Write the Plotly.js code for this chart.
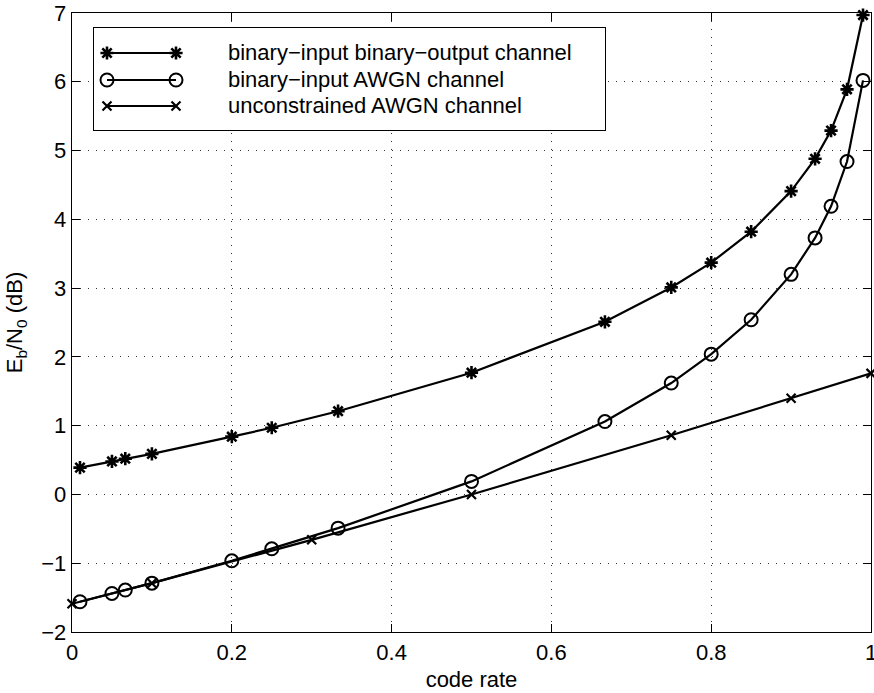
<!DOCTYPE html>
<html>
<head>
<meta charset="utf-8">
<script src="https://cdn.plot.ly/plotly-3.0.1.min.js"></script>
<style>
  html, body { margin: 0; padding: 0; background: #fff; }
  #chart { width: 874px; height: 693px; }
</style>
</head>
<body>
<div id="chart"></div>
<script>
// Shannon-limit Eb/N0 (dB) versus code rate for three channel models.
const bscRate = [0.01, 0.05, 0.0667, 0.1, 0.2, 0.25, 0.333, 0.5, 0.667, 0.75, 0.8, 0.85, 0.9, 0.93, 0.95, 0.97, 0.99];
const bscEbN0 = [0.39, 0.48, 0.52, 0.59, 0.84, 0.97, 1.21, 1.77, 2.51, 3.01, 3.37, 3.82, 4.41, 4.88, 5.29, 5.89, 6.97];

const biawgnRate = [0.01, 0.05, 0.0667, 0.1, 0.2, 0.25, 0.333, 0.5, 0.667, 0.75, 0.8, 0.85, 0.9, 0.93, 0.95, 0.97, 0.99];
const biawgnEbN0 = [-1.56, -1.44, -1.39, -1.29, -0.965, -0.79, -0.49, 0.19, 1.06, 1.62, 2.04, 2.54, 3.20, 3.73, 4.19, 4.84, 6.02];

const awgnRate = [0, 0.1, 0.3, 0.5, 0.75, 0.9, 1.0];
const awgnEbN0 = [-1.59, -1.29, -0.66, 0.0, 0.86, 1.40, 1.76];

const seriesNames = [
  'binary\u2212input binary\u2212output channel',
  'binary\u2212input AWGN channel',
  'unconstrained AWGN channel'
];

const xTickVals = [0, 0.2, 0.4, 0.6, 0.8, 1];
const xTickText = ['0', '0.2', '0.4', '0.6', '0.8', '1'];
const yTickVals = [-2, -1, 0, 1, 2, 3, 4, 5, 6, 7];

const FONT = 'Liberation Sans, Arial, Helvetica, sans-serif';
const FS = 22;
const LW = 2.2;

const markerStyles = [
  { symbol: 'asterisk-open', size: 11, color: '#000', line: { color: '#000', width: 2.6 } },
  { symbol: 'circle-open', size: 13, color: '#000', line: { color: '#000', width: 2 } },
  { symbol: 'x-thin-open', size: 9, color: '#000', line: { color: '#000', width: 2.2 } }
];

function curve(x, y, k) {
  return {
    x: x, y: y, type: 'scatter', mode: 'lines+markers',
    xaxis: 'x', yaxis: 'y',
    line: { color: '#000', width: LW },
    marker: markerStyles[k],
    cliponaxis: false, showlegend: false, hoverinfo: 'x+y'
  };
}

const traces = [
  curve(bscRate, bscEbN0, 0),
  curve(biawgnRate, biawgnEbN0, 1),
  curve(awgnRate, awgnEbN0, 2)
];

// Boxed key drawn on its own small axes (units are pixels inside the box).
const keyW = 511, keyH = 102;
const keySampleX = [13, 82];
const keyRowY = [25, 52, 78];
const keyTextX = 132;

const annotations = [];
seriesNames.forEach(function (name, k) {
  traces.push({
    x: keySampleX, y: [keyRowY[k], keyRowY[k]],
    type: 'scatter', mode: 'lines+markers', xaxis: 'x2', yaxis: 'y2',
    line: { color: '#000', width: LW }, marker: markerStyles[k],
    cliponaxis: false, showlegend: false, hoverinfo: 'skip'
  });
  annotations.push({
    xref: 'x2', yref: 'y2', x: keyTextX, y: keyRowY[k],
    xanchor: 'left', yanchor: 'middle', showarrow: false,
    text: name, font: { family: FONT, size: FS, color: '#000' }
  });
});

const plotL = 72, plotT = 13, plotW = 799, plotH = 619;
const keyLeft = 94, keyTop = 28;

const axisCommon = {
  showline: true, linecolor: '#000', linewidth: 1.3, mirror: 'ticks',
  ticks: 'inside', ticklen: 8, tickwidth: 1, tickcolor: '#000',
  showgrid: true, gridcolor: '#333', gridwidth: 1, griddash: '1px,7px',
  zeroline: false, tickfont: { family: FONT, size: FS, color: '#000' },
  ticklabeloverflow: 'allow', fixedrange: true
};

const layout = {
  width: 874, height: 693,
  margin: { l: plotL, r: 874 - plotL - plotW, t: plotT, b: 693 - plotT - plotH, pad: 0 },
  paper_bgcolor: '#fff', plot_bgcolor: '#fff',
  showlegend: false,
  font: { family: FONT, size: FS, color: '#000' },
  xaxis: Object.assign({}, axisCommon, {
    range: [0, 1], tickvals: xTickVals, ticktext: xTickText,
    title: { text: 'code rate', font: { family: FONT, size: FS }, standoff: 8 },
    automargin: false
  }),
  yaxis: Object.assign({}, axisCommon, {
    range: [-2, 7], tickvals: yTickVals,
    title: { text: 'E<sub>b</sub>/N<sub>0</sub> (dB)', font: { family: FONT, size: FS }, standoff: 12 },
    automargin: false
  }),
  xaxis2: {
    domain: [(keyLeft - plotL) / plotW, (keyLeft + keyW - plotL) / plotW],
    range: [0, keyW], anchor: 'y2',
    showline: true, mirror: true, linecolor: '#000', linewidth: 1.3,
    showgrid: false, zeroline: false, showticklabels: false, ticks: '', fixedrange: true
  },
  yaxis2: {
    domain: [1 - (keyTop + keyH - plotT) / plotH, 1 - (keyTop - plotT) / plotH],
    range: [keyH, 0], anchor: 'x2',
    showline: true, mirror: true, linecolor: '#000', linewidth: 1.3,
    showgrid: false, zeroline: false, showticklabels: false, ticks: '', fixedrange: true
  },
  shapes: [{
    type: 'rect', xref: 'x2', yref: 'y2', x0: 0, x1: keyW, y0: 0, y1: keyH,
    fillcolor: '#fff', line: { width: 0 }, layer: 'below'
  }],
  annotations: annotations
};

Plotly.newPlot('chart', traces, layout, { displayModeBar: false, staticPlot: true });
</script>
</body>
</html>
